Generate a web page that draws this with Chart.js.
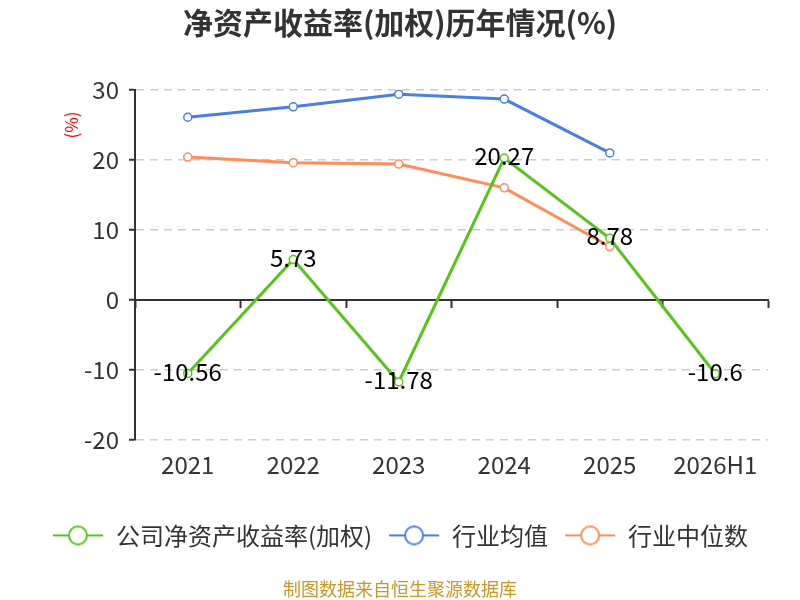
<!DOCTYPE html>
<html>
<head>
<meta charset="utf-8">
<script src="https://cdn.jsdelivr.net/npm/chart.js@4"></script>
<style>
  html, body { margin: 0; padding: 0; background: #fff; }
  #wrap { width: 800px; height: 600px; }
</style>
</head>
<body>
<div id="wrap"><canvas id="chart-roe"></canvas></div>
<script>
var years = ['2021', '2022', '2023', '2024', '2025', '2026H1'];
var companyRoe = [-10.56, 5.73, -11.78, 20.27, 8.78, -10.6];
var industryAvg = [26.1, 27.6, 29.4, 28.7, 21.0, null];
var industryMedian = [20.4, 19.6, 19.4, 16.0, 7.6, null];
var yTicks = [30, 20, 10, 0, -10, -20];

var FONT = "'Noto Sans CJK SC', 'Noto Sans', sans-serif";
var GREEN = '#58C21E', BLUE = '#4A7FE0', ORANGE = '#FF8C5A';

// legend icon: short line with a hollow circle on it
function legendIcon(color) {
    var c = document.createElement('canvas');
    c.width = 52; c.height = 24;
    var ctx = c.getContext('2d');
    ctx.strokeStyle = color;
    ctx.lineWidth = 2;
    ctx.beginPath(); ctx.moveTo(1, 12); ctx.lineTo(51, 12); ctx.stroke();
    ctx.fillStyle = '#fff';
    ctx.beginPath(); ctx.arc(26, 12, 9, 0, Math.PI * 2); ctx.fill(); ctx.stroke();
    return c;
}

// value labels on the company series + the red unit text by the y axis
var valueLabels = {
    id: 'valueLabels',
    afterDatasetsDraw(chart) {
        var ctx = chart.ctx;
        var meta = chart.getDatasetMeta(0);
        ctx.save();
        ctx.font = '24px ' + FONT;
        ctx.fillStyle = '#000';
        ctx.textAlign = 'center';
        ctx.textBaseline = 'middle';
        meta.data.forEach((pt, i) => {
            ctx.fillText(String(companyRoe[i]), pt.x, pt.y - 2);
        });
        ctx.restore();

        ctx.save();
        ctx.translate(72, 125);
        ctx.rotate(-Math.PI / 2);
        ctx.font = '17px ' + FONT;
        ctx.fillStyle = '#f00';
        ctx.textAlign = 'center';
        ctx.textBaseline = 'middle';
        ctx.fillText('(%)', 0, 0);
        ctx.restore();
    }
};

function lineSet(label, data, color) {
    return {
        label: label,
        data: data,
        borderColor: color,
        backgroundColor: '#fff',
        pointBackgroundColor: '#fff',
        pointBorderColor: color,
        pointBorderWidth: 1.5,
        pointRadius: 4,
        borderWidth: 3,
        tension: 0,
        spanGaps: false,
        icon: legendIcon(color)
    };
}

new Chart(document.getElementById('chart-roe').getContext('2d'), {
    type: 'line',
    data: {
        labels: years,
        datasets: [
            lineSet('公司净资产收益率(加权)', companyRoe, GREEN),
            lineSet('行业均值', industryAvg, BLUE),
            lineSet('行业中位数', industryMedian, ORANGE)
        ]
    },
    plugins: [valueLabels],
    options: {
        responsive: true,
        maintainAspectRatio: false,
        animation: false,
        layout: { padding: { left: 32, right: 32, top: 0, bottom: 0 } },
        plugins: {
            title: {
                display: true,
                text: '净资产收益率(加权)历年情况(%)',
                color: '#333',
                font: { family: FONT, size: 30, weight: 'bold' },
                padding: { top: 5, bottom: 49 }
            },
            subtitle: {
                display: true,
                position: 'bottom',
                text: '制图数据来自恒生聚源数据库',
                color: '#C8962A',
                font: { family: FONT, size: 18 },
                padding: { top: 21, bottom: 0 }
            },
            legend: {
                position: 'bottom',
                labels: {
                    usePointStyle: true,
                    pointStyleWidth: 52,
                    color: '#333',
                    font: { family: FONT, size: 24 },
                    padding: 16,
                    generateLabels: function (chart) {
                        return chart.data.datasets.map((ds, i) => ({
                            text: ds.label,
                            pointStyle: ds.icon,
                            fillStyle: '#fff',
                            strokeStyle: ds.borderColor,
                            fontColor: '#333',
                            lineWidth: 0,
                            hidden: !chart.isDatasetVisible(i),
                            datasetIndex: i
                        }));
                    }
                }
            },
            tooltip: { enabled: false }
        },
        scales: {
            x: {
                type: 'category',
                position: 'bottom',
                offset: true,
                grid: { display: false },
                border: { display: false },
                ticks: {
                    color: '#333',
                    font: { family: FONT, size: 24 },
                    padding: 3
                },
                afterFit: function (axis) { axis.height = 68; }
            },
            x2: {
                type: 'category',
                position: { y: 0 },
                offset: true,
                grid: {
                    offset: true,
                    drawOnChartArea: false,
                    drawTicks: true,
                    tickLength: 7,
                    tickColor: '#333',
                    tickWidth: 2
                },
                border: { display: true, color: '#333', width: 2 },
                ticks: { display: false }
            },
            y: {
                min: -20,
                max: 30,
                afterBuildTicks: function (axis) {
                    axis.ticks = yTicks.map(v => ({ value: v }));
                },
                grid: {
                    color: '#ccc',
                    lineWidth: 1.5,
                    tickColor: '#333',
                    tickWidth: 2,
                    tickLength: 6,
                    tickBorderDash: []
                },
                border: { display: true, color: '#333', width: 2, dash: [8, 6] },
                ticks: {
                    color: '#333',
                    font: { family: FONT, size: 24 },
                    padding: 10
                },
                afterFit: function (axis) { axis.width = 103; }
            }
        }
    }
});
</script>
</body>
</html>
